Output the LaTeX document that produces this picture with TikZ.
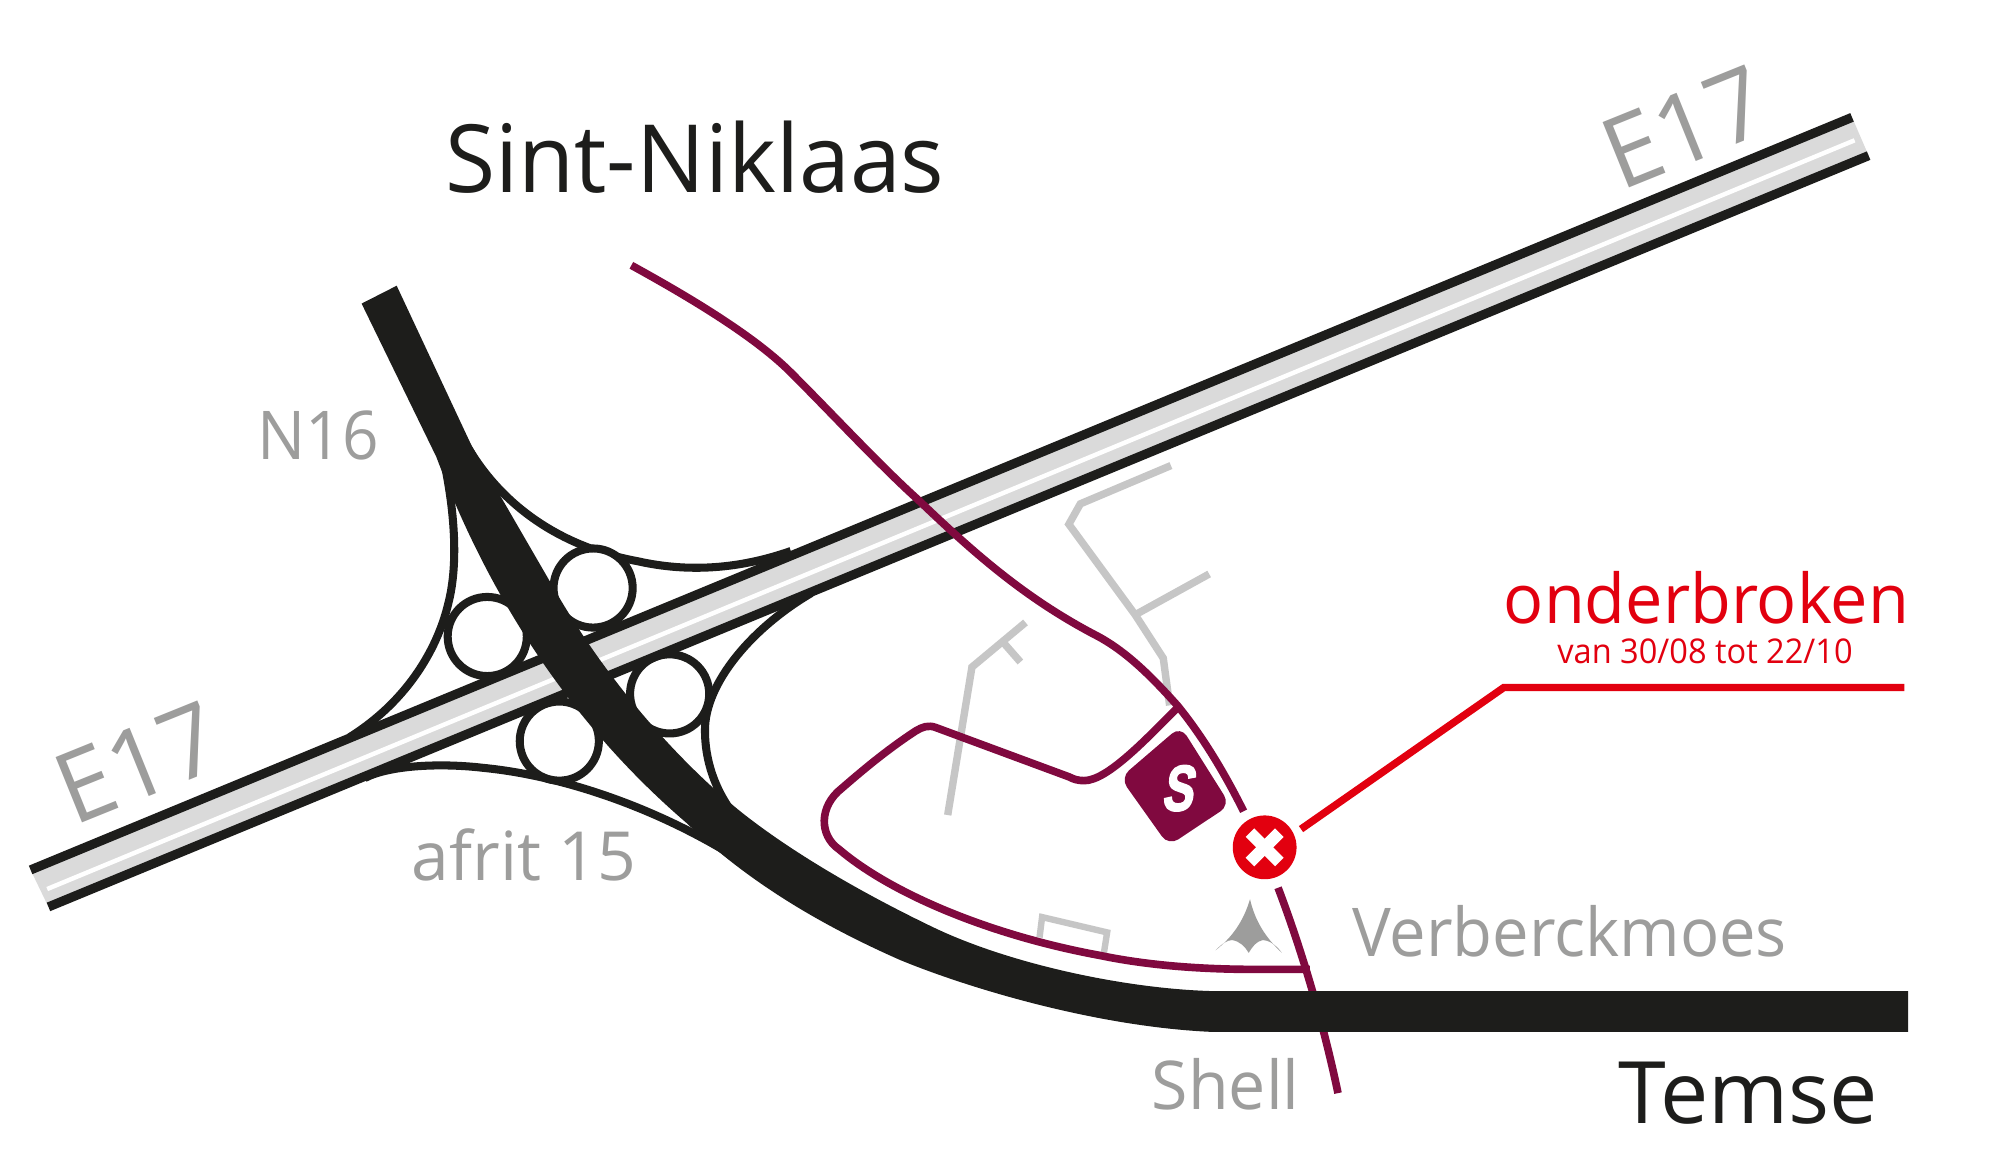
\documentclass[tikz,border=0pt]{standalone}
\usepackage{fontspec}
\setmainfont{Open Sans}
\newfontfamily\badgefont[FakeBold=3,FakeSlant=0.25]{Liberation Sans}
\definecolor{roadblack}{HTML}{1D1D1B}
\definecolor{labelgray}{HTML}{9D9D9C}
\definecolor{minorgray}{HTML}{C6C6C6}
\definecolor{bandgray}{HTML}{DADADA}
\definecolor{routepurple}{HTML}{80093F}
\definecolor{alertred}{HTML}{E2000F}
\tikzset{
  ramp/.style={draw=roadblack,line width=0.063cm},
  knot/.style={circle,draw=roadblack,fill=white,line width=0.063cm,minimum size=0.62cm,inner sep=0pt},
  edge17/.style={draw=roadblack,line width=0.072cm},
  minor/.style={draw=minorgray,line width=0.058cm,line join=miter},
  route/.style={draw=routepurple,line width=0.06cm},
  leader/.style={draw=alertred,line width=0.058cm},
  txt/.style={anchor=base west,inner sep=0pt,outer sep=0pt},
}
\begin{document}
\begin{tikzpicture}[x=0.01cm,y=-0.01cm]
\useasboundingbox (0,0) rectangle (1568,913.4);
\fill[white] (0,0) rectangle (1568,913.4);
% ramps
\draw[ramp] (362,342) .. controls (388,392) and (435,428) .. (500,440) .. controls (540,449) and (580,446) .. (620,432);
\draw[ramp] (346,352) .. controls (356,395) and (360,440) .. (351.5,473) .. controls (344,505) and (322,548) .. (274,578);
\draw[ramp] (286,610) .. controls (305,600) and (345,598) .. (379,602) .. controls (440,608) and (510,632) .. (570,668);
\draw[ramp] (636,465) .. controls (590,492) and (553,535) .. (552.7,572) .. controls (552.5,595) and (560,620) .. (578,642);
% clover loops
\node[knot] (k1) at (465,461) {};
\node[knot] (k2) at (382,499) {};
\node[knot] (k3) at (525,544) {};
\node[knot] (k4) at (438.5,581) {};
% E17
\coordinate (eul) at (24,682);
\coordinate (eur) at (1452,92);
\coordinate (ell) at (38,711);
\coordinate (elr) at (1465,122);
\coordinate (ecl) at (37,697);
\coordinate (ecr) at (1454,110);
\fill[bandgray] (eul) -- (eur) -- (elr) -- (ell) -- cycle;
\draw[white,line width=0.035cm] (ecl) -- (ecr);
\draw[edge17] (eul) -- (eur);
\draw[edge17] (ell) -- (elr);
% minor roads
\coordinate (a1) at (918,365);
\coordinate (a2) at (847,395);
\coordinate (a3) at (838,411);
\coordinate (a4) at (890,482);
\coordinate (a5) at (912,516);
\coordinate (a6) at (917,553);
\coordinate (a7) at (948,450);
\draw[minor] (a1) -- (a2) -- (a3) -- (a4) -- (a5) -- (a6);
\draw[minor] (a4) -- (a7);
\coordinate (b1) at (804,488);
\coordinate (b2) at (786,503);
\coordinate (b3) at (762,523);
\coordinate (b4) at (743,639);
\coordinate (b5) at (800,519);
\draw[minor] (b1) -- (b3) -- (b4);
\draw[minor] (b2) -- (b5);
\coordinate (c1) at (815,735);
\coordinate (c2) at (817,719);
\coordinate (c3) at (868,731);
\coordinate (c4) at (865,750);
\draw[draw=minorgray,line width=0.05cm] (c1) -- (c2) -- (c3) -- (c4);
% purple routes
\draw[route] (495,208) .. controls (535,230) and (590,262) .. (620,292) .. controls (655,327) and (690,365) .. (720,392) .. controls (765,435) and (805,470) .. (861,499) .. controls (885,512) and (905,533) .. (923,553) .. controls (945,580) and (962,610) .. (975,636);
\draw[route] (1002,696) .. controls (1015,730) and (1035,790) .. (1049,857);
\draw[route,line join=round] (923,555) .. controls (898,580) and (868,612) .. (850,612) .. controls (845,612) and (842,611) .. (838,609) -- (734,570.5) .. controls (728,568) and (723,570) .. (718,573) .. controls (695,588) and (675,605) .. (660,618) .. controls (642,632) and (642,655) .. (658,666) .. controls (698,700) and (775,733) .. (862,749) .. controls (905,758) and (950,760) .. (985,760) -- (1027,760);
% thick road
\fill[roadblack] (283.5,238) -- (342,358) .. controls (370,432) and (425,548) .. (538,645) .. controls (590,695) and (650,728) .. (705.6,752.6) .. controls (760,775) and (860,805) .. (950,809) -- (1496,809) -- (1496,777) -- (950,777) .. controls (880,775) and (790,755) .. (731.7,727) .. controls (690,707) and (630,675) .. (582.8,638) .. controls (550,612) and (487,552) .. (436.4,465) .. controls (415,428) and (390,385) .. (370,350) -- (311,224) -- cycle;
% badge
\fill[routepurple,rounded corners=0.09cm] (878.3,609.8) -- (925.6,569.3) -- (964.4,631) -- (916.2,663.1) -- cycle;
\node[inner sep=0pt,text=white] (badge) at (922.5,618) {\scalebox{0.72}[1]{\badgefont\bfseries\fontsize{14.3}{15}\selectfont S}};
% closure mark
\node[circle,fill=alertred,minimum size=0.5cm,inner sep=0pt] (x) at (991.5,664.3) {};
\draw[white,line width=0.095cm] (980,652.8) -- (1003,675.8);
\draw[white,line width=0.095cm] (980,675.8) -- (1003,652.8);
\coordinate (l1) at (1020,650);
\coordinate (l2) at (1179,539);
\coordinate (l3) at (1493,539);
\draw[leader] (l1) -- (l2) -- (l3);
% tent mark
\fill[labelgray] (980,705) .. controls (984,722) and (992,735) .. (1005,747) .. controls (1000,740) and (994,737) .. (990,737) .. controls (985,738) and (982,742) .. (979,747) .. controls (976,742) and (972,738) .. (966,737) .. controls (962,737) and (958,740) .. (953,745) .. controls (966,735) and (975,722) .. (980,705) -- cycle;
% labels
\node[txt,text=roadblack] (t1) at (349,151) {\scalebox{0.97}[1]{\fontsize{21}{24}\selectfont Sint-Niklaas}};
\node[txt,text=roadblack] (t2) at (1269,881) {\fontsize{19.2}{24}\selectfont Temse};
\node[txt,text=labelgray] (t3) at (202,360) {\scalebox{0.95}[1]{\fontsize{15}{18}\selectfont N16}};
\node[txt,text=labelgray] (t4) at (323,690) {\fontsize{15.1}{18}\selectfont afrit 15};
\node[txt,text=labelgray] (t5) at (1060,750) {\scalebox{0.968}[1]{\fontsize{15}{18}\selectfont Verberckmoes}};
\node[txt,text=labelgray] (t6) at (903,870) {\scalebox{0.985}[1]{\fontsize{15}{18}\selectfont Shell}};
\node[text=labelgray,rotate=22,inner sep=0pt] (t7) at (108,598) {\fontsize{22}{24}\selectfont E17};
\node[text=labelgray,rotate=22,inner sep=0pt] (t8) at (1321,100) {\fontsize{22}{24}\selectfont E17};
\node[txt,text=alertred] (t9) at (1179,489) {\scalebox{0.97}[1]{\fontsize{15.3}{18}\selectfont onderbroken}};
\node[txt,text=alertred] (t10) at (1221,520) {\scalebox{0.955}[1]{\fontsize{7.6}{9}\selectfont van 30/08 tot 22/10}};
\end{tikzpicture}
\end{document}
